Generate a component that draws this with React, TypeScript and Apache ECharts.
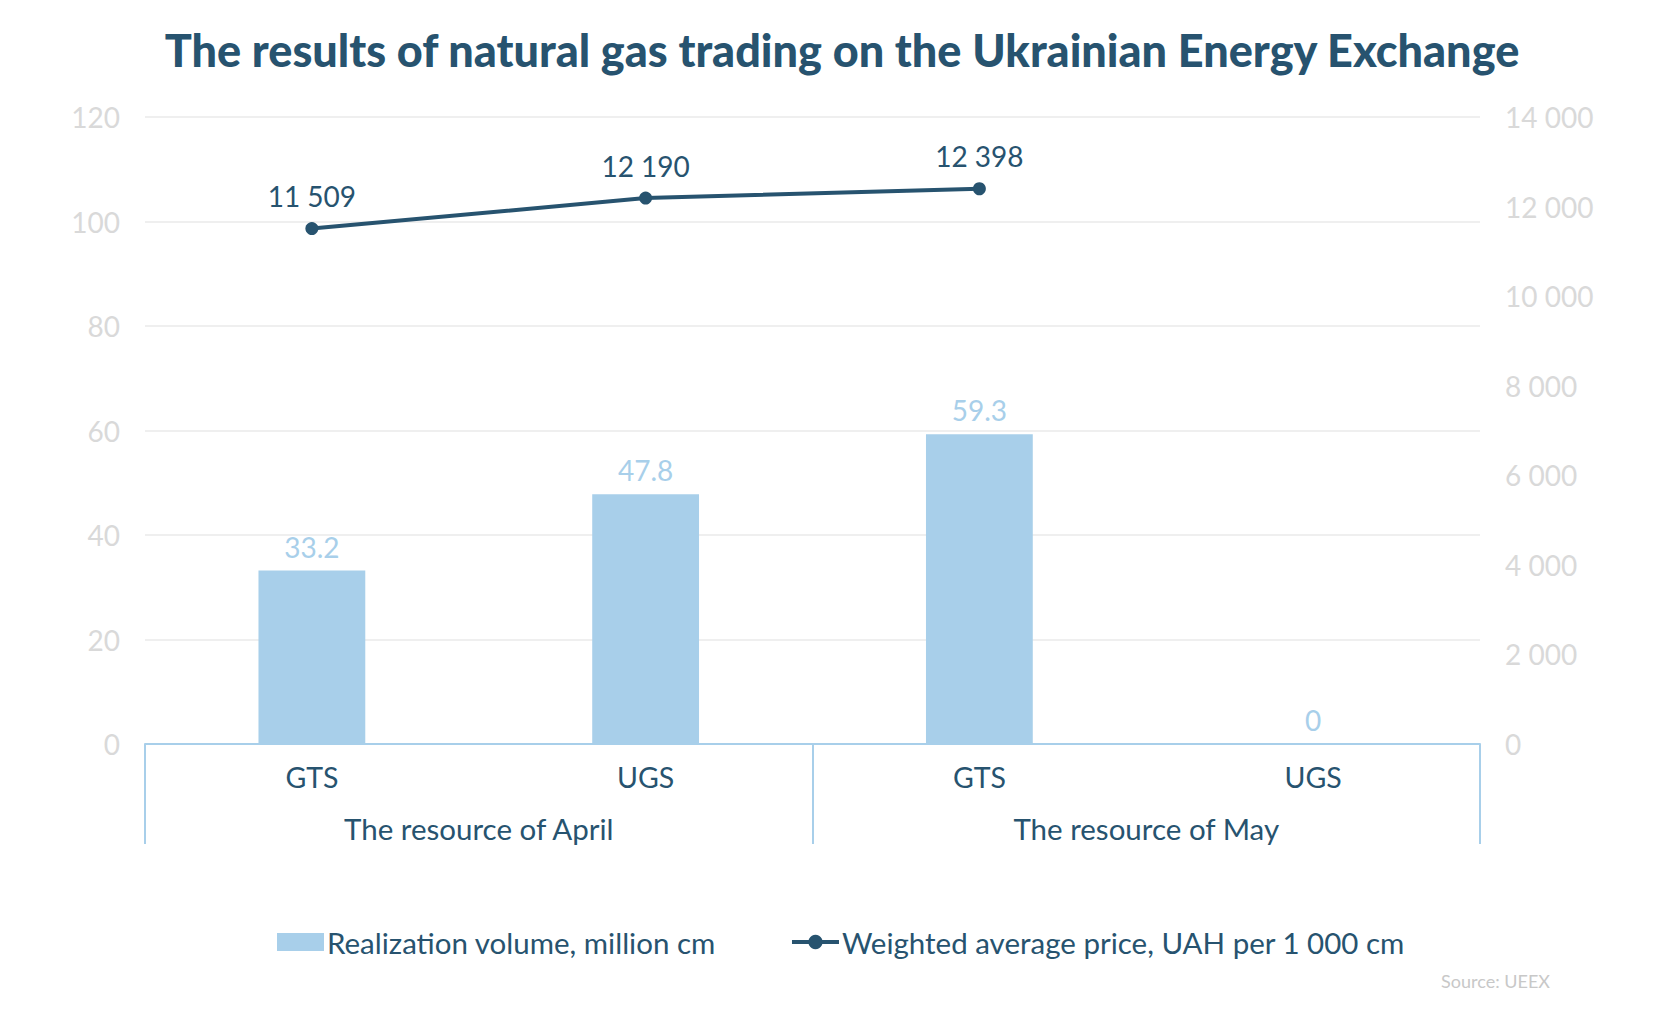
import React, { useEffect, useRef } from "react";
import * as echarts from "echarts";

const subCategories = ["GTS", "UGS", "GTS", "UGS"];
const groupCategories = ["The resource of April", "The resource of May"];
const volumeValues = [33.2, 47.8, 59.3, 0];
const priceValues: (number | null)[] = [11509, 12190, 12398, null];
const leftTicks = { min: 0, max: 120, interval: 20 };
const rightTicks = { min: 0, max: 14000, interval: 2000 };
const volumeName = "Realization volume, million cm";
const priceName = "Weighted average price, UAH per 1 000 cm";
const titleText = "The results of natural gas trading on the Ukrainian Energy Exchange";
const sourceText = "Source: UEEX";

const DARK = "#27536f";
const BAR = "#a8cfea";
const GREY = "#d9d9d9";
const FONT = "Lato, 'Open Sans', sans-serif";

const fmtSpace = (v: number) =>
  String(v).replace(/\B(?=(\d{3})+(?!\d))/g, " ");

export default function App() {
  const ref = useRef<HTMLDivElement>(null);
  useEffect(() => {
    document.body.style.margin = "0";
    const chart = echarts.init(ref.current!, null, { renderer: "svg" });
    chart.setOption({
      animation: false,
      backgroundColor: "#ffffff",
      textStyle: { fontFamily: FONT },
      graphic: [
        {
          type: "text",
          x: 842,
          y: 50,
          style: {
            text: titleText,
            fontFamily: FONT,
            fontWeight: 900,
            fontSize: 45,
            fill: DARK,
            align: "center",
            verticalAlign: "middle",
          },
        },
        {
          type: "text",
          x: 1550,
          y: 981,
          style: {
            text: sourceText,
            fontFamily: FONT,
            fontSize: 18,
            fill: "#c8c8c8",
            align: "right",
            verticalAlign: "middle",
          },
        },
      ],
      legend: {
        left: 272,
        top: 922,
        itemWidth: 47,
        itemHeight: 18,
        itemGap: 74,
        textStyle: { fontSize: 29.5, color: DARK, fontFamily: FONT, padding: [0, 0, 0, -2] },
        data: [
          { name: volumeName, icon: "rect" },
          {
            name: priceName,
            itemStyle: { color: DARK },
            lineStyle: { color: DARK, width: 4 },
          },
        ],
      },
      grid: { left: 145, right: 180, top: 117, bottom: 278, containLabel: false },
      xAxis: [
        {
          type: "category",
          data: subCategories,
          position: "bottom",
          axisLine: { show: true, lineStyle: { color: BAR, width: 2 } },
          axisTick: { show: false },
          axisLabel: { fontSize: 28.5, color: DARK, margin: 18, fontFamily: FONT },
          splitLine: { show: false },
        },
        {
          type: "category",
          data: groupCategories,
          position: "bottom",
          offset: 0,
          axisLine: { show: false },
          axisTick: { show: true, length: 100, lineStyle: { color: BAR, width: 2 } },
          axisLabel: { fontSize: 29.5, color: DARK, margin: 69, fontFamily: FONT },
          splitLine: { show: false },
        },
      ],
      yAxis: [
        {
          type: "value",
          ...leftTicks,
          position: "left",
          axisLine: { show: false },
          axisTick: { show: false },
          axisLabel: { fontSize: 28, color: GREY, margin: 25, fontFamily: FONT },
          splitLine: { show: true, lineStyle: { color: "#efefef", width: 2 } },
        },
        {
          type: "value",
          ...rightTicks,
          position: "right",
          axisLine: { show: false },
          axisTick: { show: false },
          axisLabel: {
            fontSize: 28,
            color: GREY,
            margin: 25,
            fontFamily: FONT,
            formatter: (v: number) => fmtSpace(v),
          },
          splitLine: { show: false },
        },
      ],
      series: [
        {
          name: volumeName,
          type: "bar",
          xAxisIndex: 0,
          yAxisIndex: 0,
          data: volumeValues,
          barWidth: "32%",
          itemStyle: { color: BAR },
          label: {
            show: true,
            position: "top",
            distance: 10,
            fontSize: 28,
            color: BAR,
            fontFamily: FONT,
          },
        },
        {
          name: priceName,
          type: "line",
          xAxisIndex: 0,
          yAxisIndex: 1,
          data: priceValues,
          connectNulls: false,
          symbol: "circle",
          symbolSize: 13,
          lineStyle: { color: DARK, width: 4 },
          itemStyle: { color: DARK },
          label: {
            show: true,
            position: "top",
            distance: 12,
            fontSize: 28,
            color: DARK,
            fontFamily: FONT,
            formatter: (p: any) => fmtSpace(p.value),
          },
        },
      ],
    });
    return () => chart.dispose();
  }, []);
  return (
    <div
      ref={ref}
      style={{ position: "absolute", left: 0, top: 0, width: 1660, height: 1022 }}
    />
  );
}
